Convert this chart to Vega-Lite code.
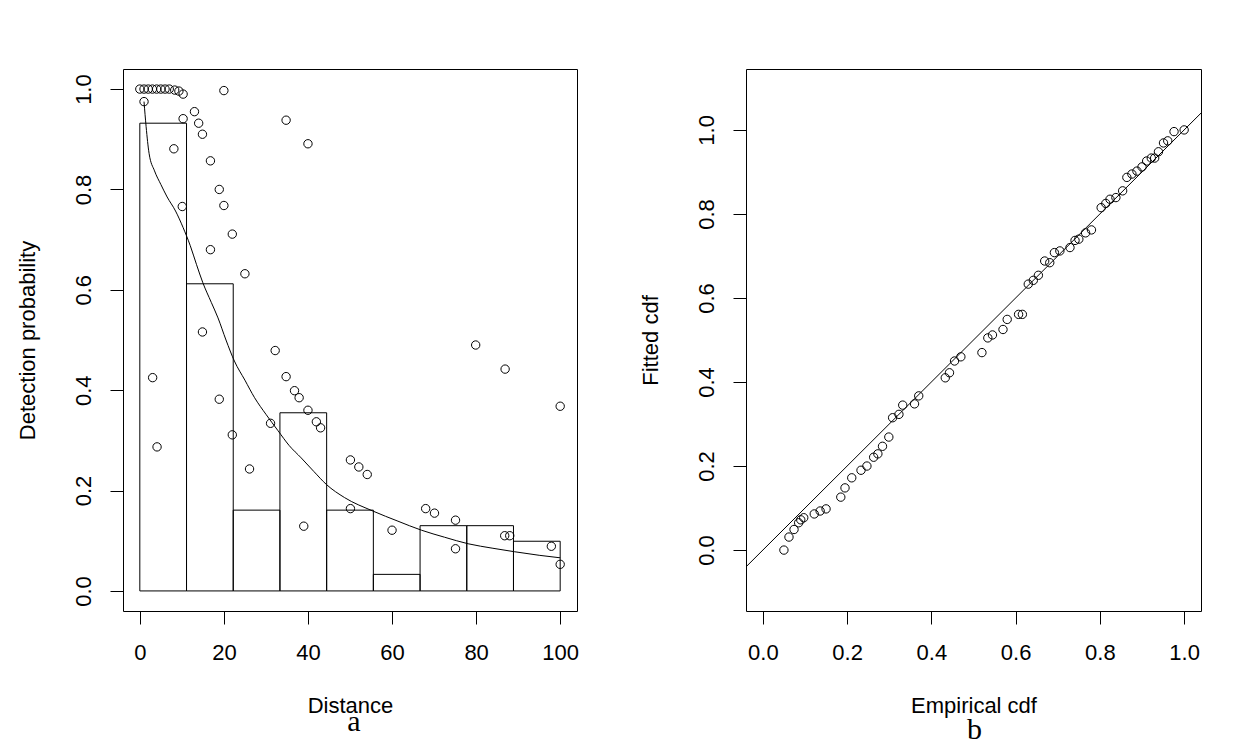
{
  "$schema": "https://vega.github.io/schema/vega-lite/v6.json",
  "background": "white",
  "padding": {"left": 15, "top": 68, "right": 5, "bottom": 2},
  "bounds": "flush",
  "spacing": 169,
  "config": {
    "view": {"stroke": "black", "strokeWidth": 1},
    "axis": {
      "domain": false, "grid": false, "ticks": true,
      "tickColor": "black", "tickSize": 13, "tickWidth": 1,
      "labelColor": "black", "labelFont": "Liberation Sans", "labelFontSize": 22,
      "titleFont": "Liberation Sans", "titleFontSize": 22, "titleFontWeight": "normal", "titleColor": "black",
      "labelOverlap": false, "labelFlush": false, "labelBound": false
    },
    "axisX": {"labelPadding": 18, "titlePadding": 32, "labelAngle": 0},
    "axisY": {"labelPadding": 20, "labelAngle": 270, "labelAlign": "center", "labelBaseline": "alphabetic", "titlePadding": 33}
  },
  "datasets": {
    "bins": [
      {"d": 0, "d2": 11.111, "p": 0.932},
      {"d": 11.111, "d2": 22.222, "p": 0.612},
      {"d": 22.222, "d2": 33.333, "p": 0.161},
      {"d": 33.333, "d2": 44.444, "p": 0.355},
      {"d": 44.444, "d2": 55.556, "p": 0.161},
      {"d": 55.556, "d2": 66.667, "p": 0.033},
      {"d": 66.667, "d2": 77.778, "p": 0.130},
      {"d": 77.778, "d2": 88.889, "p": 0.130},
      {"d": 88.889, "d2": 100, "p": 0.099}
    ],
    "curve": [
      {"d": 1.0, "p": 0.975}, {"d": 1.5, "p": 0.925}, {"d": 2.2, "p": 0.872}, {"d": 3.5, "p": 0.837},
      {"d": 5, "p": 0.81}, {"d": 6.5, "p": 0.785}, {"d": 8.5, "p": 0.757}, {"d": 10.3, "p": 0.724},
      {"d": 12, "p": 0.688}, {"d": 13.5, "p": 0.65}, {"d": 15, "p": 0.614}, {"d": 17, "p": 0.575},
      {"d": 18.6, "p": 0.544}, {"d": 20.5, "p": 0.5}, {"d": 22.5, "p": 0.458}, {"d": 25, "p": 0.42},
      {"d": 27.3, "p": 0.385}, {"d": 30, "p": 0.352}, {"d": 32.9, "p": 0.319}, {"d": 35.5, "p": 0.29},
      {"d": 38.4, "p": 0.265}, {"d": 41.4, "p": 0.238}, {"d": 44.4, "p": 0.212}, {"d": 48.7, "p": 0.186},
      {"d": 55.5, "p": 0.159}, {"d": 61.4, "p": 0.139}, {"d": 67, "p": 0.121}, {"d": 72.5, "p": 0.107},
      {"d": 78.1, "p": 0.094}, {"d": 84, "p": 0.085}, {"d": 89.2, "p": 0.078}, {"d": 95, "p": 0.071},
      {"d": 100, "p": 0.066}
    ],
    "pts": [
      {"d": 0, "p": 1.0}, {"d": 1, "p": 1.0}, {"d": 2, "p": 1.0}, {"d": 3, "p": 1.0},
      {"d": 4, "p": 1.0}, {"d": 5, "p": 1.0}, {"d": 6, "p": 1.0}, {"d": 7, "p": 1.0},
      {"d": 8.3, "p": 0.998}, {"d": 9.3, "p": 0.996}, {"d": 10.3, "p": 0.99},
      {"d": 1.0, "p": 0.975},
      {"d": 20, "p": 0.997}, {"d": 13, "p": 0.955}, {"d": 10.3, "p": 0.941}, {"d": 14, "p": 0.932},
      {"d": 14.9, "p": 0.91}, {"d": 34.8, "p": 0.938}, {"d": 40, "p": 0.891}, {"d": 8.1, "p": 0.881},
      {"d": 16.8, "p": 0.857}, {"d": 18.9, "p": 0.8}, {"d": 20, "p": 0.768}, {"d": 10.1, "p": 0.766},
      {"d": 22, "p": 0.711}, {"d": 16.8, "p": 0.68},
      {"d": 25, "p": 0.632}, {"d": 14.9, "p": 0.516}, {"d": 32.2, "p": 0.479}, {"d": 34.8, "p": 0.427},
      {"d": 3.05, "p": 0.425}, {"d": 36.8, "p": 0.399}, {"d": 37.9, "p": 0.385}, {"d": 18.9, "p": 0.382},
      {"d": 40, "p": 0.36}, {"d": 42, "p": 0.337}, {"d": 43, "p": 0.325}, {"d": 31.1, "p": 0.334},
      {"d": 22, "p": 0.311}, {"d": 4.1, "p": 0.287},
      {"d": 26.1, "p": 0.243}, {"d": 39, "p": 0.129},
      {"d": 79.9, "p": 0.49}, {"d": 86.9, "p": 0.442}, {"d": 100, "p": 0.368}, {"d": 50.1, "p": 0.261},
      {"d": 52.1, "p": 0.247}, {"d": 54.1, "p": 0.232}, {"d": 50.1, "p": 0.164}, {"d": 60, "p": 0.121},
      {"d": 68, "p": 0.164}, {"d": 70.1, "p": 0.155}, {"d": 75.1, "p": 0.141}, {"d": 75.1, "p": 0.084},
      {"d": 86.8, "p": 0.11}, {"d": 88, "p": 0.11}, {"d": 97.9, "p": 0.089}, {"d": 100, "p": 0.053}
    ],
    "ref": [{"e": -0.2, "f": -0.2}, {"e": 1.2, "f": 1.2}],
    "cdf": [
      {"e": 0.050, "f": 0.000}, {"e": 0.062, "f": 0.031}, {"e": 0.074, "f": 0.049}, {"e": 0.085, "f": 0.065},
      {"e": 0.090, "f": 0.072}, {"e": 0.097, "f": 0.077}, {"e": 0.122, "f": 0.086}, {"e": 0.136, "f": 0.093},
      {"e": 0.150, "f": 0.098}, {"e": 0.185, "f": 0.126}, {"e": 0.195, "f": 0.148}, {"e": 0.211, "f": 0.172},
      {"e": 0.233, "f": 0.190}, {"e": 0.247, "f": 0.200}, {"e": 0.263, "f": 0.221}, {"e": 0.273, "f": 0.229},
      {"e": 0.284, "f": 0.247}, {"e": 0.299, "f": 0.269}, {"e": 0.308, "f": 0.315}, {"e": 0.323, "f": 0.323},
      {"e": 0.332, "f": 0.345}, {"e": 0.360, "f": 0.348}, {"e": 0.370, "f": 0.367}, {"e": 0.433, "f": 0.410},
      {"e": 0.443, "f": 0.422}, {"e": 0.455, "f": 0.450}, {"e": 0.470, "f": 0.460}, {"e": 0.520, "f": 0.470},
      {"e": 0.534, "f": 0.505}, {"e": 0.545, "f": 0.512}, {"e": 0.570, "f": 0.525}, {"e": 0.580, "f": 0.549},
      {"e": 0.607, "f": 0.561}, {"e": 0.616, "f": 0.561}, {"e": 0.630, "f": 0.633}, {"e": 0.642, "f": 0.642},
      {"e": 0.654, "f": 0.654}, {"e": 0.669, "f": 0.688}, {"e": 0.681, "f": 0.684}, {"e": 0.692, "f": 0.708},
      {"e": 0.705, "f": 0.712}, {"e": 0.729, "f": 0.720}, {"e": 0.741, "f": 0.737}, {"e": 0.750, "f": 0.740},
      {"e": 0.766, "f": 0.755}, {"e": 0.780, "f": 0.762}, {"e": 0.803, "f": 0.815}, {"e": 0.814, "f": 0.825},
      {"e": 0.824, "f": 0.835}, {"e": 0.838, "f": 0.839}, {"e": 0.854, "f": 0.855}, {"e": 0.864, "f": 0.887},
      {"e": 0.876, "f": 0.895}, {"e": 0.888, "f": 0.902}, {"e": 0.900, "f": 0.912}, {"e": 0.911, "f": 0.926},
      {"e": 0.922, "f": 0.933}, {"e": 0.930, "f": 0.933}, {"e": 0.939, "f": 0.948}, {"e": 0.951, "f": 0.969},
      {"e": 0.961, "f": 0.974}, {"e": 0.976, "f": 0.996}, {"e": 1.000, "f": 1.000}
    ]
  },
  "hconcat": [
    {
      "width": 454,
      "height": 542,
      "title": {"text": "a", "orient": "bottom", "anchor": "middle", "font": "Liberation Serif", "fontSize": 30, "fontWeight": "normal", "color": "black", "offset": -9, "dx": 4},
      "layer": [
        {
          "data": {"name": "bins"},
          "mark": {"type": "rect", "fill": "white", "fillOpacity": 0, "stroke": "black", "strokeWidth": 1},
          "encoding": {
            "x": {"field": "d", "type": "quantitative", "title": "Distance",
                  "scale": {"domain": [-4, 104], "nice": false, "zero": false},
                  "axis": {"values": [0, 20, 40, 60, 80, 100], "format": "d"}},
            "x2": {"field": "d2"},
            "y": {"field": "p", "type": "quantitative", "title": "Detection probability",
                  "scale": {"domain": [-0.04, 1.04], "nice": false, "zero": false},
                  "axis": {"values": [0, 0.2, 0.4, 0.6, 0.8, 1.0], "format": ".1f"}},
            "y2": {"datum": 0}
          }
        },
        {
          "data": {"name": "curve"},
          "mark": {"type": "line", "color": "black", "strokeWidth": 1, "interpolate": "monotone"},
          "encoding": {
            "x": {"field": "d", "type": "quantitative", "title": "Distance",
                  "axis": {"values": [0, 20, 40, 60, 80, 100], "format": "d"}},
            "y": {"field": "p", "type": "quantitative", "title": "Detection probability",
                  "axis": {"values": [0, 0.2, 0.4, 0.6, 0.8, 1.0], "format": ".1f"}}
          }
        },
        {
          "data": {"name": "pts"},
          "mark": {"type": "point", "shape": "circle", "filled": false, "color": "black", "strokeWidth": 1, "size": 70, "opacity": 1},
          "encoding": {
            "x": {"field": "d", "type": "quantitative", "title": "Distance",
                  "axis": {"values": [0, 20, 40, 60, 80, 100], "format": "d"}},
            "y": {"field": "p", "type": "quantitative", "title": "Detection probability",
                  "axis": {"values": [0, 0.2, 0.4, 0.6, 0.8, 1.0], "format": ".1f"}}
          }
        }
      ]
    },
    {
      "width": 455,
      "height": 542,
      "title": {"text": "b", "orient": "bottom", "anchor": "middle", "font": "Liberation Serif", "fontSize": 30, "fontWeight": "normal", "color": "black", "offset": -1, "dx": 1},
      "layer": [
        {
          "data": {"name": "ref"},
          "mark": {"type": "line", "color": "black", "strokeWidth": 1, "clip": true},
          "encoding": {
            "x": {"field": "e", "type": "quantitative", "title": "Empirical cdf",
                  "scale": {"domain": [-0.04, 1.04], "nice": false, "zero": false},
                  "axis": {"values": [0, 0.2, 0.4, 0.6, 0.8, 1.0], "format": ".1f"}},
            "y": {"field": "f", "type": "quantitative", "title": "Fitted cdf",
                  "scale": {"domain": [-0.145, 1.145], "nice": false, "zero": false},
                  "axis": {"values": [0, 0.2, 0.4, 0.6, 0.8, 1.0], "format": ".1f"}}
          }
        },
        {
          "data": {"name": "cdf"},
          "mark": {"type": "point", "shape": "circle", "filled": false, "color": "black", "strokeWidth": 1, "size": 70, "opacity": 1},
          "encoding": {
            "x": {"field": "e", "type": "quantitative", "title": "Empirical cdf",
                  "axis": {"values": [0, 0.2, 0.4, 0.6, 0.8, 1.0], "format": ".1f"}},
            "y": {"field": "f", "type": "quantitative", "title": "Fitted cdf",
                  "axis": {"values": [0, 0.2, 0.4, 0.6, 0.8, 1.0], "format": ".1f"}}
          }
        }
      ]
    }
  ]
}
